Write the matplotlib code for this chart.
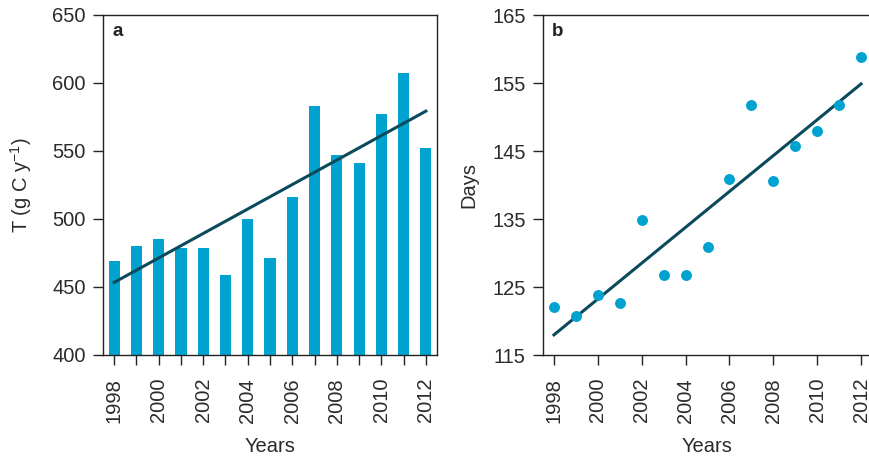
import numpy as np
import matplotlib
matplotlib.use("Agg")
import matplotlib.pyplot as plt

plt.rcParams['font.family'] = ['Liberation Sans', 'DejaVu Sans']

years = list(range(1998, 2013))
T_values = [469, 480, 485, 479, 479, 459, 500, 471, 516, 583, 547, 541, 577, 607, 552]
days_values = [122.0, 120.8, 123.8, 122.7, 134.8, 126.8, 126.8, 130.9, 140.9, 151.8,
               140.6, 145.8, 147.9, 151.8, 158.8]
year_ticks = list(range(1998, 2013, 2))
T_ticks = [400, 450, 500, 550, 600, 650]
day_ticks = [115, 125, 135, 145, 155, 165]

bar_color = '#00a3cf'
line_color = '#0b4a5c'
text_color = '#2b2b2b'
fs = 14.5

fig = plt.figure(figsize=(8.7, 4.59), dpi=100)
W, H = 870, 459
axa = fig.add_axes([103 / W, 1 - 355 / H, (437 - 103) / W, 340 / H])
axb = fig.add_axes([543 / W, 1 - 355 / H, (872 - 543) / W, 340 / H])

x = np.array(years)

# Panel a
axa.bar(x, T_values, width=0.5, color=bar_color, zorder=2)
ca = np.polyfit(x, T_values, 1)
axa.plot(x[[0, -1]], np.polyval(ca, x[[0, -1]]), color=line_color, lw=2.2, zorder=3)
axa.set_ylim(400, 650)
axa.set_yticks(T_ticks)
axa.set_xlim(1997.5, 2012.5)
axa.set_xticks(years)
axa.set_xticklabels([str(y) if y % 2 == 0 else '' for y in years], rotation=90)
axa.set_ylabel('T (g C y$^{\\mathregular{-1}}$)', fontsize=fs, color=text_color, labelpad=13)
axa.set_xlabel('Years', fontsize=fs, color=text_color, labelpad=10)
axa.text(0.027, 0.975, 'a', transform=axa.transAxes, fontsize=13.5, fontweight='bold',
         va='top', ha='left', color='#222222')

# Panel b
axb.scatter(x, days_values, s=62, color=bar_color, zorder=3, linewidths=0)
cb = np.polyfit(x, days_values, 1)
axb.plot(x[[0, -1]], np.polyval(cb, x[[0, -1]]), color=line_color, lw=2.2, zorder=2)
axb.set_ylim(115, 165)
axb.set_yticks(day_ticks)
axb.set_xlim(1997.5, 2012.5)
axb.set_xticks(year_ticks)
axb.set_xticklabels([str(y) for y in year_ticks], rotation=90)
axb.set_ylabel('Days', fontsize=fs, color=text_color, labelpad=10)
axb.set_xlabel('Years', fontsize=fs, color=text_color, labelpad=10)
axb.text(0.027, 0.975, 'b', transform=axb.transAxes, fontsize=13.5, fontweight='bold',
         va='top', ha='left', color='#222222')

for ax in (axa, axb):
    for sp in ax.spines.values():
        sp.set_linewidth(1.0)
        sp.set_color('#222222')
    ax.tick_params(direction='out', length=7.5, width=1.0, color='#222222',
                   labelsize=fs, labelcolor=text_color, pad=5)
    ax.tick_params(axis='x', pad=9)

fig.savefig('out.png', dpi=100)
